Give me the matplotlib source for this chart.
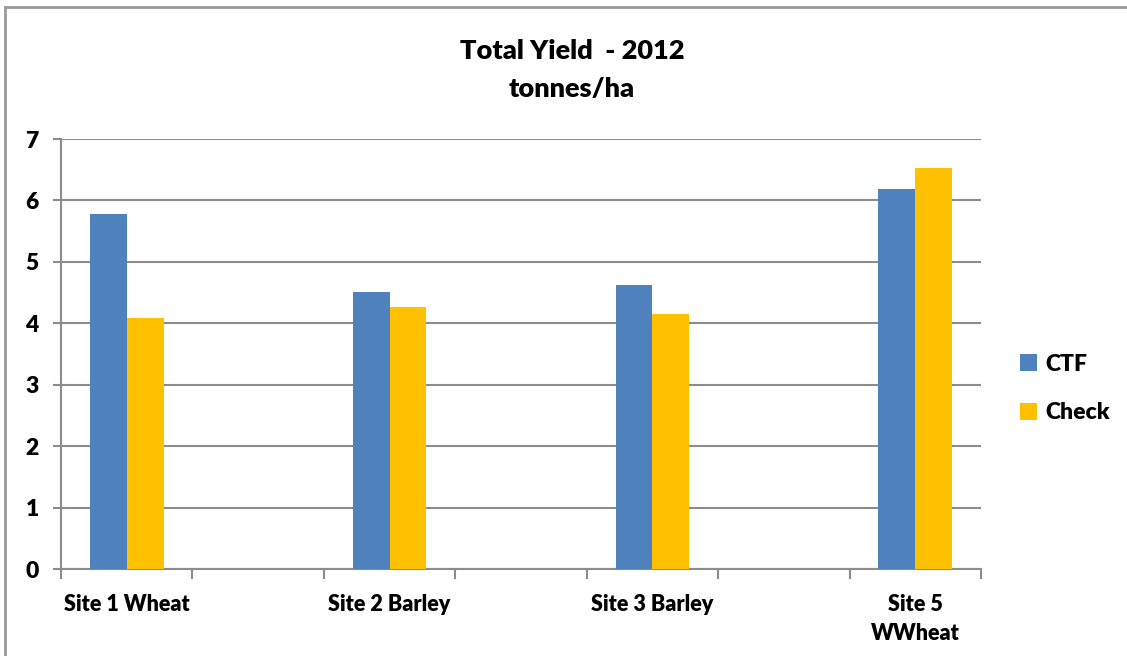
import numpy as np
import matplotlib.pyplot as plt
from matplotlib.patches import Rectangle

plt.rcParams['font.family'] = ['Lato', 'DejaVu Sans']
plt.rcParams['font.weight'] = 'heavy'

# blank categories keep the gaps between the sites
sites = ['Site 1 Wheat', '', 'Site 2 Barley', '', 'Site 3 Barley', '', 'Site 5\nWWheat']
ctf = [5.78, np.nan, 4.51, np.nan, 4.62, np.nan, 6.19]
check = [4.09, np.nan, 4.27, np.nan, 4.15, np.nan, 6.53]

blue = '#4F81BD'
gold = '#FFC000'
grey = '#8C8C8C'

fig = plt.figure(figsize=(11.27, 6.56), dpi=100)
ax = fig.add_axes([61 / 1127, 1 - 569 / 656, 920 / 1127, 430 / 656])

x = np.arange(len(sites))
w = 0.28
ax.bar(x - w / 2, ctf, w, color=blue, label='CTF', zorder=3)
ax.bar(x + w / 2, check, w, color=gold, label='Check', zorder=3)

ax.set_xlim(-0.5, len(sites) - 0.5)
ax.set_ylim(0, 7)
ax.set_yticks(range(0, 8))
ax.yaxis.grid(True, color=grey, linewidth=1.5, zorder=0)

# category labels centred, tick marks on the boundaries
ax.set_xticks(x)
ax.set_xticklabels(sites, fontsize=15.5, fontweight='heavy', linespacing=1.45)
ax.tick_params(axis='x', length=0, pad=18)
ax.set_xticks(np.arange(-0.5, len(sites)), minor=True)
ax.tick_params(axis='x', which='minor', length=7, width=1.5, color=grey, direction='out')
ax.tick_params(axis='y', length=6, width=1.5, color=grey, labelsize=16.5, pad=10)
for lab in ax.get_yticklabels():
    lab.set_fontweight('heavy')

for s in ['top', 'right']:
    ax.spines[s].set_visible(False)
for s in ['left', 'bottom']:
    ax.spines[s].set_color(grey)
    ax.spines[s].set_linewidth(1.5)

fig.text(572 / 1127, 1 - 51 / 656, 'Total Yield  - 2012', ha='center', va='center',
         fontsize=19.5, fontweight='heavy')
fig.text(572 / 1127, 1 - 89 / 656, 'tonnes/ha', ha='center', va='center',
         fontsize=19.5, fontweight='heavy')

ax.legend(loc='center left', bbox_to_anchor=(1.02, 0.42), frameon=False,
          prop={'size': 16.5, 'weight': 'heavy'}, handlelength=0.75, handleheight=0.75,
          labelspacing=1.2, handletextpad=0.35)

# outer chart border
fig.patches.append(Rectangle((5 / 1127, -0.1), 1.2, 1 - 7 / 656 + 0.1,
                             transform=fig.transFigure, fill=False,
                             edgecolor='#999999', linewidth=2))

fig.savefig('out.png', dpi=100, facecolor='white')
